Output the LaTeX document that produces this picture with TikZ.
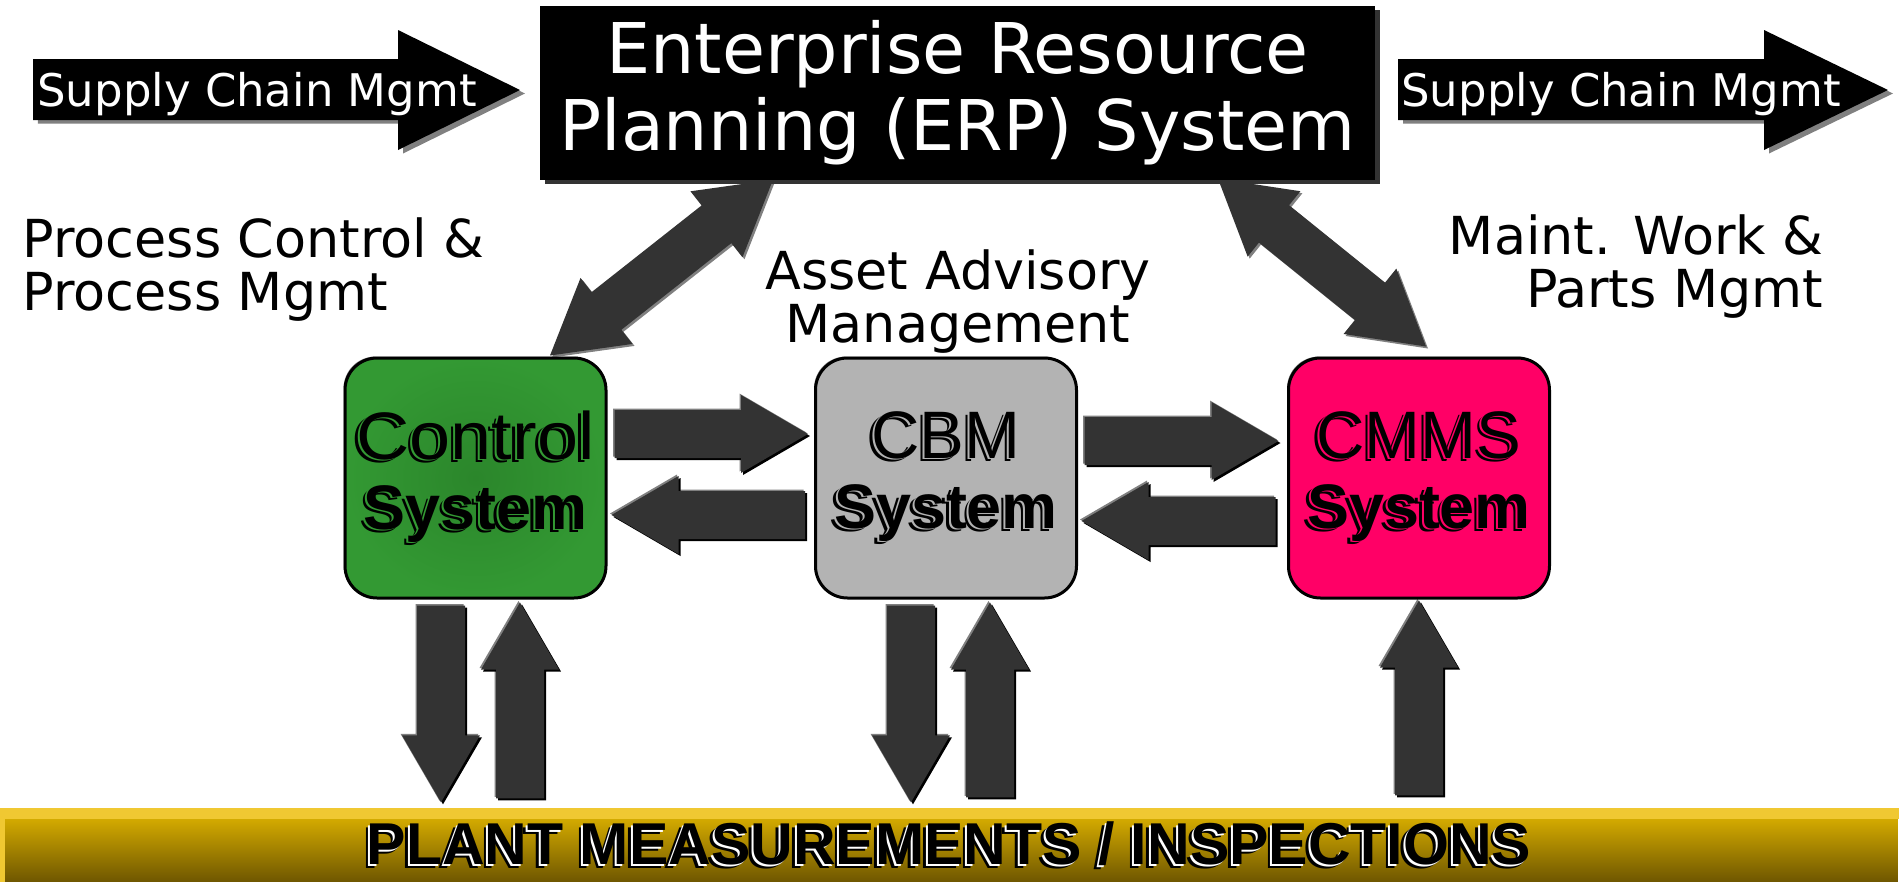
\documentclass[tikz,border=0pt]{standalone}
\usepackage{fontspec}
\usepackage{graphicx}
\setmainfont{DejaVu Sans}
\newfontfamily\arialfont{Liberation Sans}
\usetikzlibrary{calc,shadows}

\definecolor{arrowgray}{HTML}{333333}
\definecolor{ctrlgreen}{HTML}{339933}
\definecolor{ctrlgreendark}{HTML}{2B862B}
\definecolor{cbmgray}{HTML}{B3B3B3}
\definecolor{cmmspink}{HTML}{FF0066}
\definecolor{baryellow}{HTML}{E3B700}
\definecolor{barbrown}{HTML}{6E5600}
\definecolor{barlight}{HTML}{F0C832}

\pgfdeclarelayer{bg}
\pgfsetlayers{bg,main}

\def\shaftw{2.4mm}
\def\headw{3.9mm}
\def\headl{6.7mm}

\newcommand{\bigarrow}[3][blockarrow]{%
  \path (#2) coordinate (ta) (#3) coordinate (tb);
  \path ($(tb)!\headl!(ta)$) coordinate (hb);
  \fill[#1] ($(ta)!\shaftw!90:(tb)$) -- ($(hb)!\shaftw!-90:(ta)$) -- ($(hb)!\headw!-90:(ta)$) -- (tb)
    -- ($(hb)!\headw!90:(ta)$) -- ($(hb)!\shaftw!90:(ta)$) -- ($(ta)!\shaftw!-90:(tb)$) -- cycle;
}
\newcommand{\dblarrow}[3][diagarrow]{%
  \path (#2) coordinate (ta) (#3) coordinate (tb);
  \path ($(tb)!\headl!(ta)$) coordinate (hb) ($(ta)!\headl!(tb)$) coordinate (ha);
  \fill[#1] (ta) -- ($(ha)!\headw!90:(tb)$) -- ($(ha)!\shaftw!90:(tb)$) -- ($(hb)!\shaftw!-90:(ta)$) -- ($(hb)!\headw!-90:(ta)$) -- (tb)
    -- ($(hb)!\headw!90:(ta)$) -- ($(hb)!\shaftw!90:(ta)$) -- ($(ha)!\shaftw!-90:(tb)$) -- ($(ha)!\headw!-90:(tb)$) -- cycle;
}
\newcommand{\shtext}[2]{%
  \makebox[0pt][l]{\hspace{-0.45mm}\raisebox{-0.35mm}{#2}}%
  \makebox[0pt][l]{\hspace{-0.2mm}\raisebox{-0.15mm}{\color{#1}#2}}%
  #2}

\tikzset{
  blockarrow/.style={fill=arrowgray,
    general shadow={fill=gray, shadow xshift=-0.15mm, shadow yshift=0.15mm},
    general shadow={fill=black, shadow xshift=0.2mm, shadow yshift=-0.2mm}},
  diagarrow/.style={fill=arrowgray,
    general shadow={fill=gray, shadow xshift=0.2mm, shadow yshift=-0.2mm}},
  supplyarrow/.style={fill=black, general shadow={fill=gray, shadow xshift=0.5mm, shadow yshift=-0.35mm}},
  supplytext/.style={text=white, inner sep=0pt, font=\fontsize{12.8}{14}\selectfont},
  erpbox/.style={fill=black, text=white, minimum width=83.5mm, minimum height=17.4mm, inner sep=0pt,
    align=center, font=\fontsize{19.9}{22}\selectfont,
    general shadow={fill=black!80, shadow xshift=0.5mm, shadow yshift=-0.4mm}},
  sysbox/.style={draw=black, line width=0.3mm, rounded corners=3.2mm, minimum width=26.1mm,
    minimum height=24mm, inner sep=0pt, align=center, font=\arialfont\fontsize{19.1}{19.9}\selectfont,
    general shadow={fill=gray, shadow xshift=-0.15mm, shadow yshift=0.15mm}},
  label/.style={inner sep=0pt, font=\fontsize{14.9}{14.8}\selectfont},
  plantbar/.style={top color=baryellow, bottom color=barbrown, minimum width=189.8mm, minimum height=7.3mm,
    inner sep=0pt, font=\arialfont\bfseries\fontsize{16.8}{18}\selectfont}
}

\begin{document}
\begin{tikzpicture}[x=0.1mm, y=-0.1mm]
\useasboundingbox (0,0) rectangle (1902,882);

\fill[supplyarrow] (33,59) -- (398,59) -- (398,30) -- (520,90) -- (398,150) -- (398,120) -- (33,120) -- cycle;
\node[supplytext, anchor=base] (scmin) at (257,106) {Supply Chain Mgmt};
\fill[supplyarrow] (1398,59) -- (1764,59) -- (1764,30) -- (1888,90) -- (1764,150) -- (1764,120) -- (1398,120) -- cycle;
\node[supplytext, anchor=base] (scmout) at (1621,106) {Supply Chain Mgmt};

\node[erpbox] (erp) at (957.5,93) {Enterprise Resource\\Planning (ERP) System};

\node[sysbox, inner color=ctrlgreendark, outer color=ctrlgreen] (ctrl) at (475.5,478)
  {\shtext{ctrlgreen}{\scalebox{1.1}[1]{Control}}\\{\bfseries\fontsize{17.9}{19.9}\selectfont\shtext{ctrlgreen}{System}}};
\node[sysbox, fill=cbmgray] (cbm) at (946,478)
  {\shtext{cbmgray}{CBM}\\{\bfseries\fontsize{17.9}{19.9}\selectfont\shtext{cbmgray}{System}}};
\node[sysbox, fill=cmmspink] (cmms) at (1419,478)
  {\shtext{cmmspink}{CMMS}\\{\bfseries\fontsize{17.9}{19.9}\selectfont\shtext{cmmspink}{System}}};

\node[label, align=left, anchor=base west] (pcm) at (22,310) {Process Control \&\\Process Mgmt};
\node[label, align=center, anchor=base] (aam) at (958,342) {Asset Advisory\\Management};
\node[label, align=right, anchor=base east] (mwp) at (1824,307) {Maint. Work \&\\Parts Mgmt};

\node[plantbar] (bar) at (949,845.5) {\shtext{white}{PLANT MEASUREMENTS / INSPECTIONS}};
\fill[barlight] (bar.north west) rectangle ([yshift=-1.1mm]bar.north east);
\fill[barlight] (bar.north west) rectangle ([xshift=0.6mm]bar.south west);

\begin{pgfonlayer}{bg}
\bigarrow{[xshift=0.7mm,yshift=4.4mm]ctrl.east}{[xshift=-0.6mm,yshift=4.4mm]cbm.west}
\bigarrow{[xshift=-0.9mm,yshift=-3.7mm]cbm.west}{[xshift=0.4mm,yshift=-3.7mm]ctrl.east}
\bigarrow{[xshift=0.65mm,yshift=3.7mm]cbm.east}{[xshift=-0.85mm,yshift=3.7mm]cmms.west}
\bigarrow{[xshift=-1.15mm,yshift=-4.3mm]cmms.west}{[xshift=0.35mm,yshift=-4.3mm]cbm.east}

\bigarrow{[xshift=-3.45mm,yshift=-0.6mm]ctrl.south}{[xshift=-3.45mm,yshift=0.6mm]ctrl.south |- bar.north}
\bigarrow{[xshift=4.45mm,yshift=1mm]ctrl.south |- bar.north}{[xshift=4.45mm,yshift=-0.3mm]ctrl.south}
\bigarrow{[xshift=-3.5mm,yshift=-0.6mm]cbm.south}{[xshift=-3.5mm,yshift=0.6mm]cbm.south |- bar.north}
\bigarrow{[xshift=4.4mm,yshift=1.1mm]cbm.south |- bar.north}{[xshift=4.4mm,yshift=-0.3mm]cbm.south}
\bigarrow{[yshift=1.3mm]cmms.south |- bar.north}{[yshift=-0.1mm]cmms.south}

\def\headw{4.2mm}
\def\headl{7.2mm}
\dblarrow{[xshift=7.45mm,yshift=0.1mm]ctrl.north}{[xshift=-18.45mm,yshift=0.1mm]erp.south}
\dblarrow{[xshift=0.7mm,yshift=1mm]cmms.north}{[xshift=26.05mm,yshift=0.2mm]erp.south}
\end{pgfonlayer}
\end{tikzpicture}
\end{document}
